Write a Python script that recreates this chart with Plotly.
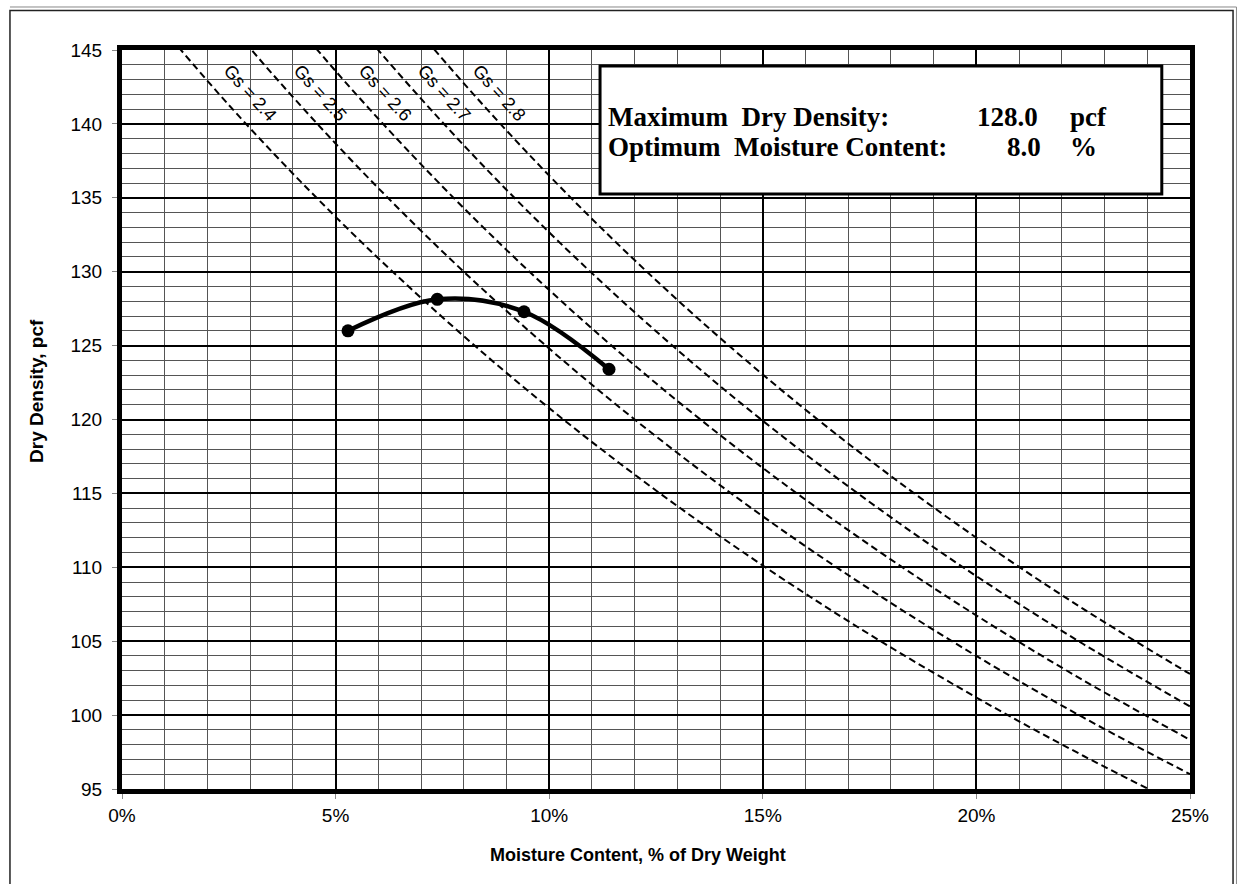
import plotly.graph_objects as go

# ---- Data ----
# Compaction test points (moisture %, dry density pcf)
moisture = [5.29, 7.38, 9.41, 11.40]
dry_density = [126.0, 128.13, 127.29, 123.40]

# Zero-air-voids lines
zav_w = [0, 2.5, 5, 7.5, 10, 12.5, 15, 17.5, 20, 22.5, 25]
zav_24 = [149.76, 141.28, 133.71, 126.92, 120.77, 115.20, 110.12, 105.46, 101.19, 97.25, 93.60]
zav_25 = [156.00, 146.82, 138.67, 131.37, 124.80, 118.86, 113.45, 108.52, 104.00, 99.84, 96.00]
zav_26 = [162.24, 152.34, 143.58, 135.77, 128.76, 122.45, 116.72, 111.51, 106.74, 102.36, 98.33]
zav_27 = [168.48, 157.83, 148.44, 140.11, 132.66, 125.97, 119.91, 114.42, 109.40, 104.81, 100.59]
zav_28 = [174.72, 163.29, 153.26, 144.40, 136.50, 129.42, 123.04, 117.26, 112.00, 107.19, 102.78]
zav_names = ["Gs = 2.4", "Gs = 2.5", "Gs = 2.6", "Gs = 2.7", "Gs = 2.8"]
zav_label_x = [3.0, 4.64, 6.16, 7.54, 8.83]
zav_label_y = [142.1, 142.1, 142.1, 142.1, 142.1]

x_ticks = [0, 5, 10, 15, 20, 25]
y_ticks = [95, 100, 105, 110, 115, 120, 125, 130, 135, 140, 145]

max_dry_density = "128.0"
opt_moisture = "8.0"

SANS = "Liberation Sans, Arial, sans-serif"
SERIF = "Liberation Serif, Times New Roman, serif"

fig = go.Figure()

for ys, name in zip([zav_24, zav_25, zav_26, zav_27, zav_28], zav_names):
    fig.add_trace(go.Scatter(
        x=zav_w, y=ys, mode="lines", name=name,
        line=dict(color="black", width=2, dash="7px,4px", shape="spline"),
        hoverinfo="skip", showlegend=False))

fig.add_trace(go.Scatter(
    x=moisture, y=dry_density, mode="lines+markers",
    line=dict(color="black", width=4.5, shape="spline", smoothing=1.0),
    marker=dict(color="black", size=13),
    showlegend=False))

annotations = []
for name, lx, ly in zip(zav_names, zav_label_x, zav_label_y):
    annotations.append(dict(x=lx, y=ly, xref="x", yref="y", text=name,
                            showarrow=False, textangle=48,
                            font=dict(family=SANS, size=18, color="black")))

# Result box text
box_font = dict(family=SERIF, size=27, color="black")
annotations += [
    dict(x=11.33, y=140.47, xref="x", yref="y", xanchor="left", yanchor="middle",
         text="<b>Maximum  Dry Density:</b>", showarrow=False, font=box_font),
    dict(x=21.49, y=140.47, xref="x", yref="y", xanchor="right", yanchor="middle",
         text="<b>" + max_dry_density + "</b>", showarrow=False, font=box_font),
    dict(x=22.14, y=140.47, xref="x", yref="y", xanchor="left", yanchor="middle",
         text="<b>pcf</b>", showarrow=False, font=box_font),
    dict(x=11.33, y=138.45, xref="x", yref="y", xanchor="left", yanchor="middle",
         text="<b>Optimum  Moisture Content:</b>", showarrow=False, font=box_font),
    dict(x=21.56, y=138.45, xref="x", yref="y", xanchor="right", yanchor="middle",
         text="<b>" + opt_moisture + "</b>", showarrow=False, font=box_font),
    dict(x=22.14, y=138.45, xref="x", yref="y", xanchor="left", yanchor="middle",
         text="<b>%</b>", showarrow=False, font=box_font),
]

# Axis titles
annotations += [
    dict(x=0.483, y=-0.0893, xref="paper", yref="paper", text="<b>Moisture Content, % of Dry Weight</b>",
         showarrow=False, xanchor="center", yanchor="middle",
         font=dict(family=SANS, size=18, color="black")),
    dict(x=-0.0796, y=0.5386, xref="paper", yref="paper", text="<b>Dry Density, pcf</b>",
         showarrow=False, xanchor="center", yanchor="middle", textangle=-90,
         font=dict(family=SANS, size=19, color="black")),
]

shapes = [
    # result box
    dict(type="rect", xref="x", yref="y", x0=11.19, x1=24.34, y0=135.26, y1=143.92,
         line=dict(color="black", width=3), fillcolor="white", layer="above"),
    # outer frame
    dict(type="path", xref="paper", yref="paper",
         path="M -0.1049,-0.2 L -0.1049,1.0535 L 1.0403,1.0535 L 1.0403,-0.2",
         line=dict(color="#222", width=1.5)),
    dict(type="path", xref="paper", yref="paper",
         path="M -0.1049,1.0582 L 1.0435,1.0582 L 1.0435,-0.2",
         line=dict(color="#888", width=1)),
]

fig.update_layout(
    width=1238, height=884,
    margin=dict(l=122, r=48, t=50, b=95),
    paper_bgcolor="white", plot_bgcolor="white",
    annotations=annotations, shapes=shapes,
    showlegend=False,
    xaxis=dict(range=[0, 25], tickvals=x_ticks, ticktext=[f"{v}%" for v in x_ticks],
               showgrid=True, gridcolor="black", gridwidth=2,
               minor=dict(dtick=1, tick0=0, showgrid=True, gridcolor="#555", gridwidth=1),
               showline=True, linecolor="black", linewidth=5, mirror=True,
               ticks="outside", ticklen=5, tickcolor="#888", tickwidth=1,
               ticklabelstandoff=0,
               tickfont=dict(family=SANS, size=19, color="black"), zeroline=False),
    yaxis=dict(range=[95, 145], tickvals=y_ticks,
               showgrid=True, gridcolor="black", gridwidth=2,
               minor=dict(dtick=1, tick0=95, showgrid=True, gridcolor="#555", gridwidth=1),
               showline=True, linecolor="black", linewidth=5, mirror=True,
               ticks="outside", ticklen=5, tickcolor="#888", tickwidth=1,
               ticklabelstandoff=6,
               tickfont=dict(family=SANS, size=19, color="black"), zeroline=False),
)

fig.write_html("out.html", config={"displayModeBar": False},
               post_script="document.body.style.margin='0';document.body.style.overflow='hidden';")
